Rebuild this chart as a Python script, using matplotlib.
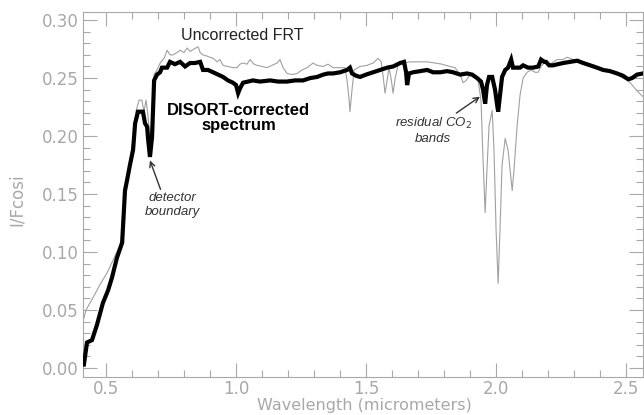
import matplotlib
matplotlib.use("Agg")
import matplotlib.pyplot as plt
from matplotlib.ticker import MultipleLocator

# DISORT-corrected spectrum
wl_corr = [0.415, 0.427, 0.446, 0.465, 0.488, 0.508, 0.523, 0.542, 0.562, 0.573, 0.581, 0.592,
           0.604, 0.612, 0.623, 0.642, 0.650, 0.658, 0.662, 0.669, 0.677, 0.685, 0.696, 0.708,
           0.715, 0.735, 0.746, 0.765, 0.785, 0.804, 0.823, 0.842, 0.862, 0.873, 0.892, 0.912,
           0.931, 0.950, 0.969, 0.988, 1.000, 1.008, 1.015, 1.027, 1.046, 1.065, 1.092, 1.131,
           1.162, 1.196, 1.227, 1.258, 1.285, 1.312, 1.335, 1.354, 1.373, 1.400, 1.427, 1.438,
           1.446, 1.462, 1.477, 1.500, 1.527, 1.554, 1.581, 1.604, 1.631, 1.646, 1.654, 1.658,
           1.665, 1.681, 1.708, 1.735, 1.758, 1.785, 1.812, 1.835, 1.862, 1.888, 1.908, 1.927,
           1.942, 1.950, 1.958, 1.965, 1.973, 1.985, 1.996, 2.004, 2.008, 2.015, 2.023, 2.035,
           2.046, 2.058, 2.065, 2.077, 2.092, 2.104, 2.123, 2.142, 2.162, 2.173, 2.185, 2.192,
           2.204, 2.219, 2.238, 2.258, 2.285, 2.312, 2.335, 2.362, 2.388, 2.412, 2.438, 2.465,
           2.488, 2.508, 2.523, 2.542, 2.565]
if_corr = [0.003, 0.022, 0.024, 0.037, 0.056, 0.067, 0.078, 0.095, 0.108, 0.153, 0.162, 0.175,
           0.188, 0.211, 0.221, 0.221, 0.211, 0.208, 0.197, 0.182, 0.199, 0.248, 0.253, 0.255,
           0.259, 0.259, 0.264, 0.262, 0.264, 0.260, 0.263, 0.263, 0.264, 0.257, 0.257, 0.255,
           0.253, 0.251, 0.248, 0.246, 0.244, 0.237, 0.241, 0.246, 0.247, 0.248, 0.247, 0.248,
           0.247, 0.247, 0.248, 0.248, 0.250, 0.251, 0.253, 0.254, 0.254, 0.255, 0.257, 0.259,
           0.254, 0.252, 0.251, 0.253, 0.255, 0.257, 0.259, 0.260, 0.263, 0.264, 0.255, 0.244,
           0.254, 0.255, 0.256, 0.257, 0.255, 0.255, 0.256, 0.255, 0.253, 0.254, 0.253, 0.250,
           0.247, 0.240, 0.228, 0.244, 0.251, 0.251, 0.240, 0.227, 0.221, 0.235, 0.251, 0.257,
           0.259, 0.266, 0.259, 0.259, 0.259, 0.261, 0.259, 0.259, 0.260, 0.266, 0.264, 0.264,
           0.261, 0.261, 0.262, 0.263, 0.264, 0.265, 0.263, 0.261, 0.259, 0.257, 0.256, 0.254,
           0.252, 0.249, 0.250, 0.253, 0.254]

# Uncorrected FRT spectrum
wl_raw = [0.415, 0.423, 0.446, 0.477, 0.504, 0.527, 0.546, 0.558, 0.569, 0.581, 0.592, 0.604,
          0.615, 0.627, 0.638, 0.646, 0.654, 0.662, 0.669, 0.677, 0.685, 0.696, 0.708, 0.723,
          0.735, 0.746, 0.758, 0.773, 0.785, 0.800, 0.812, 0.823, 0.838, 0.854, 0.862, 0.873,
          0.888, 0.900, 0.912, 0.927, 0.938, 0.950, 0.969, 0.988, 1.004, 1.015, 1.027, 1.042,
          1.054, 1.069, 1.081, 1.100, 1.119, 1.138, 1.158, 1.169, 1.181, 1.196, 1.215, 1.235,
          1.254, 1.273, 1.285, 1.296, 1.312, 1.335, 1.354, 1.373, 1.400, 1.419, 1.427, 1.435,
          1.438, 1.446, 1.454, 1.477, 1.504, 1.527, 1.546, 1.558, 1.565, 1.573, 1.581, 1.588,
          1.596, 1.604, 1.612, 1.623, 1.642, 1.669, 1.700, 1.735, 1.765, 1.792, 1.823, 1.842,
          1.862, 1.873, 1.885, 1.900, 1.915, 1.931, 1.942, 1.950, 1.958, 1.965, 1.973, 1.985,
          1.992, 2.000, 2.008, 2.015, 2.023, 2.035, 2.046, 2.058, 2.062, 2.069, 2.081, 2.092,
          2.104, 2.119, 2.135, 2.150, 2.162, 2.173, 2.185, 2.208, 2.235, 2.258, 2.273, 2.296,
          2.323, 2.350, 2.381, 2.412, 2.438, 2.465, 2.488, 2.508, 2.527, 2.546, 2.565]
if_raw = [0.043, 0.050, 0.059, 0.072, 0.082, 0.093, 0.102, 0.109, 0.145, 0.164, 0.179, 0.197,
          0.221, 0.231, 0.231, 0.221, 0.231, 0.216, 0.197, 0.214, 0.253, 0.257, 0.263, 0.267,
          0.274, 0.270, 0.270, 0.272, 0.274, 0.272, 0.276, 0.273, 0.275, 0.277, 0.272, 0.270,
          0.269, 0.268, 0.267, 0.264, 0.266, 0.261, 0.260, 0.259, 0.259, 0.262, 0.263, 0.262,
          0.266, 0.262, 0.261, 0.260, 0.259, 0.261, 0.263, 0.266, 0.259, 0.254, 0.253, 0.254,
          0.257, 0.259, 0.261, 0.263, 0.261, 0.260, 0.262, 0.259, 0.259, 0.259, 0.248, 0.231,
          0.221, 0.240, 0.257, 0.260, 0.261, 0.263, 0.267, 0.264, 0.253, 0.237, 0.248, 0.259,
          0.250, 0.237, 0.250, 0.261, 0.263, 0.264, 0.264, 0.264, 0.263, 0.262, 0.260, 0.259,
          0.253, 0.246, 0.248, 0.253, 0.252, 0.248, 0.231, 0.179, 0.134, 0.171, 0.209, 0.222,
          0.188, 0.119, 0.073, 0.119, 0.175, 0.198, 0.188, 0.162, 0.153, 0.171, 0.209, 0.235,
          0.250, 0.255, 0.257, 0.255, 0.255, 0.260, 0.263, 0.262, 0.266, 0.266, 0.268, 0.266,
          0.264, 0.262, 0.259, 0.257, 0.255, 0.253, 0.250, 0.248, 0.243, 0.238, 0.234]

x_ticks = [0.5, 1.0, 1.5, 2.0, 2.5]
y_ticks = [0.00, 0.05, 0.10, 0.15, 0.20, 0.25, 0.30]

GRAY = "#a8a8a8"
ANN = "Liberation Sans"

fig = plt.figure(figsize=(6.44, 4.15), dpi=100)
ax = fig.add_axes([83 / 644, 1 - 377 / 415, (643 - 83) / 644, (377 - 12) / 415])

ax.plot(wl_raw, if_raw, color="#a0a0a0", lw=0.8, zorder=2)
ax.plot(wl_corr, if_corr, color="black", lw=3.0, zorder=3, solid_joinstyle="miter")

ax.set_xlim(0.4115, 2.565)
ax.set_ylim(-0.0078, 0.307)
ax.set_xticks(x_ticks)
ax.set_xticklabels([f"{v:.1f}" for v in x_ticks])
ax.set_yticks(y_ticks)
ax.set_yticklabels([f"{v:.2f}" for v in y_ticks])
ax.xaxis.set_minor_locator(MultipleLocator(0.1))
ax.yaxis.set_minor_locator(MultipleLocator(0.01))
ax.tick_params(which="both", direction="in", top=True, right=True, colors=GRAY,
               labelcolor=GRAY, labelsize=12, width=0.8)
ax.tick_params(which="major", length=10)
ax.tick_params(which="minor", length=5)
ax.tick_params(axis="x", which="major", pad=2)
ax.tick_params(axis="y", which="major", pad=3)
for s in ax.spines.values():
    s.set_color(GRAY)
    s.set_linewidth(0.8)

fig.text(364 / 644, 1 - 405 / 415, "Wavelength (micrometers)", color=GRAY, fontsize=11.5,
         ha="center", va="center")
fig.text(17 / 644, 1 - 200 / 415, "I/Fcosi", color=GRAY, fontsize=12,
         ha="center", va="center", rotation=90)

ax.text(1.023, 0.287, "Uncorrected FRT", ha="center", va="center", fontsize=11.5,
        color="#222222", family=ANN)
ax.text(1.010, 0.2155, "DISORT-corrected\nspectrum", ha="center", va="center",
        fontsize=12, fontweight="bold", color="black", linespacing=1.0, family=ANN)
ax.annotate("detector\nboundary", xy=(0.669, 0.179), xytext=(0.756, 0.1405),
            ha="center", va="center", fontsize=9.5, style="italic", color="#333333",
            family=ANN,
            arrowprops=dict(arrowstyle="->", color="#333333", lw=1.0,
                            shrinkA=0, shrinkB=0,
                            relpos=(0.3, 1.0)))
ax.annotate("residual CO$_2$\nbands", xy=(1.938, 0.234), xytext=(1.758, 0.205),
            ha="center", va="center", fontsize=9.5, style="italic", color="#333333",
            family=ANN,
            arrowprops=dict(arrowstyle="->", color="#333333", lw=1.0,
                            shrinkA=0, shrinkB=0, relpos=(0.75, 1.0)))

fig.savefig("out.png", dpi=100)
